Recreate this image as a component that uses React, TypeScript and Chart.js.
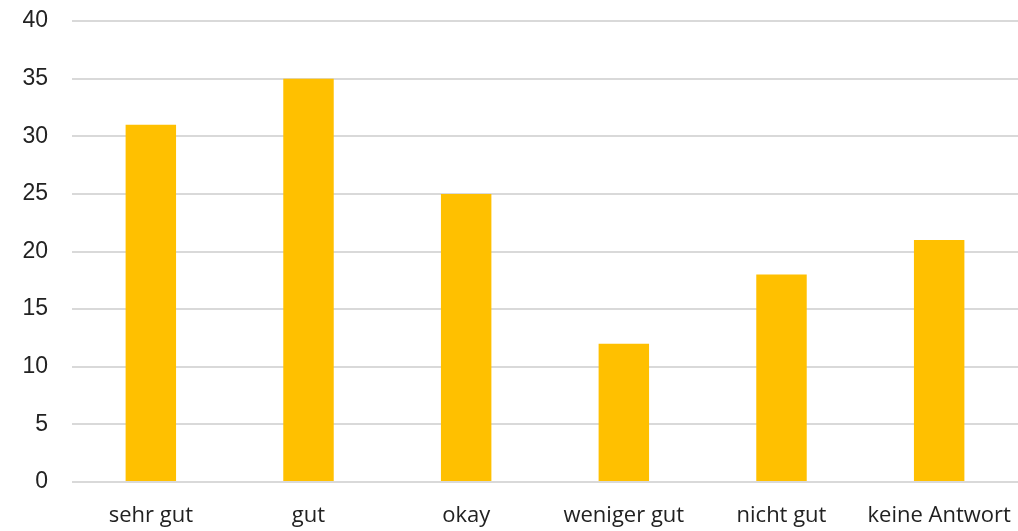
import React, { useEffect, useRef } from "react";
import { Chart, registerables } from "chart.js";

Chart.register(...registerables);

const categories = ["sehr gut", "gut", "okay", "weniger gut", "nicht gut", "keine Antwort"];
const values = [31, 35, 25, 12, 18, 21];
const yTicks = [0, 5, 10, 15, 20, 25, 30, 35, 40];

export default function App() {
  const ref = useRef<HTMLCanvasElement | null>(null);
  useEffect(() => {
    document.body.style.margin = "0";
    const chart = new Chart(ref.current!, {
      type: "bar",
      data: {
        labels: categories,
        datasets: [
          {
            data: values,
            backgroundColor: "#FFC000",
            barPercentage: 0.32,
            categoryPercentage: 1,
          },
        ],
      },
      options: {
        animation: false,
        responsive: false,
        maintainAspectRatio: false,
        layout: { padding: { left: 20, right: 0, top: 21, bottom: 0 } },
        plugins: { legend: { display: false }, tooltip: { enabled: false } },
        scales: {
          x: {
            grid: { display: false },
            border: { display: false },
            afterFit: (axis: any) => {
              axis.height = 49;
              axis.paddingLeft = 0;
              axis.paddingRight = 0;
            },
            ticks: {
              color: "#222",
              font: { family: "'Open Sans'", size: 22 },
              padding: 13,
              maxRotation: 0,
            },
          },
          y: {
            min: 0,
            max: 40,
            afterBuildTicks: (axis: any) => {
              axis.ticks = yTicks.map((v) => ({ value: v }));
            },
            afterFit: (axis: any) => {
              axis.width = 52;
              axis.paddingTop = 0;
              axis.paddingBottom = 0;
            },
            grid: { color: "#d9d9d9", lineWidth: 2, drawTicks: false },
            border: { display: false },
            ticks: {
              color: "#222",
              font: { family: "'Liberation Sans', Arial", size: 23 },
              padding: 24,
            },
          },
        },
      },
    });
    return () => chart.destroy();
  }, []);
  return (
    <div style={{ width: 1018, height: 531 }}>
      <canvas ref={ref} width={1018} height={531} style={{ width: 1018, height: 531 }} />
    </div>
  );
}
